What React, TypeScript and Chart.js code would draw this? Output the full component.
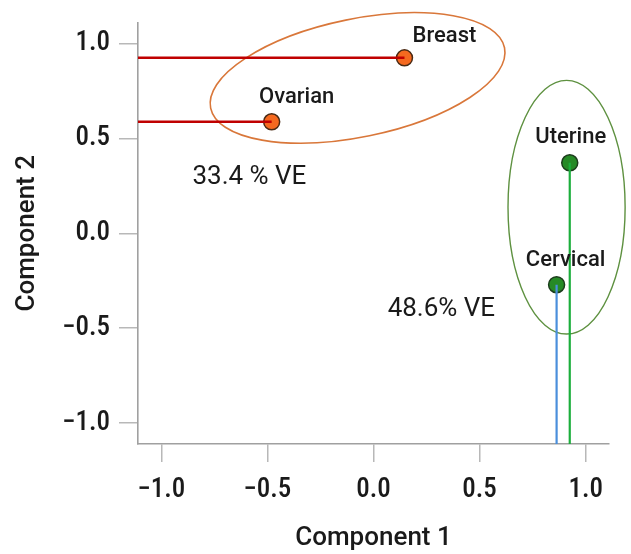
import React, { useEffect, useRef } from "react";
import { Chart, registerables } from "chart.js";
Chart.register(...registerables);

// ---- data ----
const categories = ["Breast", "Ovarian", "Uterine", "Cervical"];
const component1 = [0.146, -0.48, 0.925, 0.863];
const component2 = [0.924, 0.587, 0.371, -0.271];
const groups = ["A", "A", "B", "B"];
const tickValues = [-1, -0.5, 0, 0.5, 1];
const tickLabels = ["−1.0", "−0.5", "0.0", "0.5", "1.0"];
const veLabels = ["33.4 % VE", "48.6% VE"];
const veX = [-0.585, 0.32];
const veY = [0.295, -0.4];

const X_MIN = -1.11;
const X_MAX = 1.11;
const Y_MIN = -1.11;
const Y_MAX = 1.11;

const labelOffsets: Record<string, [number, number]> = {
  Breast: [40, -21],
  Ovarian: [25, -24],
  Uterine: [1, -25],
  Cervical: [9, -24],
};

const overlayPlugin = {
  id: "overlay",
  beforeDatasetsDraw(chart: any) {
    const { ctx, scales } = chart;
    const xs = scales.x;
    const ys = scales.y;
    ctx.save();
    ctx.beginPath();
    ctx.ellipse(
      xs.getPixelForValue(-0.075),
      ys.getPixelForValue(0.818),
      150,
      59,
      (-11.6 * Math.PI) / 180,
      0,
      Math.PI * 2
    );
    ctx.strokeStyle = "#d9773a";
    ctx.lineWidth = 1.6;
    ctx.stroke();
    const cx = xs.getPixelForValue(0.91);
    const cy = ys.getPixelForValue(0.137);
    const rx = Math.abs(xs.getPixelForValue(0.91 + 0.276) - cx);
    const ry = Math.abs(ys.getPixelForValue(0.137 + 0.668) - cy);
    ctx.beginPath();
    ctx.ellipse(cx, cy, rx, ry, 0, 0, Math.PI * 2);
    ctx.strokeStyle = "#5e9140";
    ctx.lineWidth = 1.4;
    ctx.stroke();
    ctx.restore();
  },
  afterDatasetsDraw(chart: any) {
    const { ctx, scales } = chart;
    const xs = scales.x;
    const ys = scales.y;
    ctx.save();
    ctx.fillStyle = "#1a1a1a";
    ctx.textAlign = "center";
    ctx.textBaseline = "middle";
    ctx.font = "500 22px Roboto, sans-serif";
    categories.forEach((c, i) => {
      const [dx, dy] = labelOffsets[c];
      ctx.fillText(c, xs.getPixelForValue(component1[i]) + dx, ys.getPixelForValue(component2[i]) + dy);
    });
    ctx.font = "400 26px Roboto, sans-serif";
    veLabels.forEach((t, i) => {
      ctx.fillText(t, xs.getPixelForValue(veX[i]), ys.getPixelForValue(veY[i]));
    });
    ctx.restore();
  },
};

export default function App() {
  const ref = useRef<HTMLCanvasElement | null>(null);
  useEffect(() => {
    if (!ref.current) return;
    const lineDatasets: any[] = [];
    categories.forEach((c, i) => {
      if (groups[i] === "A") {
        lineDatasets.push({
          type: "line",
          label: c + " line",
          data: [
            { x: X_MIN, y: component2[i] },
            { x: component1[i], y: component2[i] },
          ],
          borderColor: "#c00000",
          borderWidth: 2.5,
          pointRadius: 0,
          order: 0,
        });
      } else {
        lineDatasets.push({
          type: "line",
          label: c + " line",
          data: [
            { x: component1[i], y: component2[i] },
            { x: component1[i], y: Y_MIN },
          ],
          borderColor: c === "Uterine" ? "#1cae3c" : "#4a8fdc",
          borderWidth: 2.2,
          pointRadius: 0,
          order: 0,
        });
      }
    });
    const chart = new Chart(ref.current, {
      type: "scatter",
      data: {
        datasets: [
          ...lineDatasets,
          {
            type: "scatter",
            label: "Loadings",
            data: categories.map((c, i) => ({ x: component1[i], y: component2[i] })),
            backgroundColor: groups.map((g) => (g === "A" ? "#f5691f" : "#268a26")),
            borderColor: groups.map((g) => (g === "A" ? "#4a2a14" : "#1d3d1d")),
            borderWidth: 1.5,
            pointRadius: 8,
            order: 1,
          },
        ],
      } as any,
      options: {
        animation: false,
        responsive: false,
        maintainAspectRatio: false,
        layout: { padding: { left: 0, top: 22, right: 22, bottom: 0 } },
        plugins: {
          legend: { display: false },
          tooltip: { enabled: false },
        },
        scales: {
          x: {
            type: "linear",
            min: X_MIN,
            max: X_MAX,
            afterBuildTicks: (s: any) => {
              s.ticks = tickValues.map((v) => ({ value: v }));
            },
            afterFit: (s: any) => {
              s.height = 110;
            },
            ticks: {
              callback: (v: any) => tickLabels[tickValues.indexOf(Number(v))] ?? "",
              font: { family: "Roboto, sans-serif", size: 27, weight: "condensed 500" },
              color: "#1a1a1a",
              padding: 12,
              maxRotation: 0,
            },
            grid: {
              display: true,
              drawOnChartArea: false,
              drawTicks: true,
              tickLength: 18,
              color: "#b8b8b8",
              lineWidth: 1.5,
            },
            border: { display: true, color: "#a0a0a0", width: 1.6 },
            title: {
              display: true,
              text: "Component 1",
              font: { family: "Roboto, sans-serif", size: 26, weight: "500" },
              color: "#1a1a1a",
              padding: { top: 0, bottom: 0 },
            },
          },
          y: {
            type: "linear",
            min: Y_MIN,
            max: Y_MAX,
            afterBuildTicks: (s: any) => {
              s.ticks = tickValues.map((v) => ({ value: v }));
            },
            afterFit: (s: any) => {
              s.width = 138;
            },
            ticks: {
              callback: (v: any) => tickLabels[tickValues.indexOf(Number(v))] ?? "",
              font: { family: "Roboto, sans-serif", size: 27, weight: "condensed 500", lineHeight: 1 },
              color: "#1a1a1a",
              padding: 9,
            },
            grid: {
              display: true,
              drawOnChartArea: false,
              drawTicks: true,
              tickLength: 19,
              color: "#b8b8b8",
              lineWidth: 1.5,
            },
            border: { display: true, color: "#a0a0a0", width: 1.6 },
            title: {
              display: true,
              text: "Component 2",
              font: { family: "Roboto, sans-serif", size: 26, weight: "500" },
              color: "#1a1a1a",
              padding: { top: 12, bottom: 0 },
            },
          },
        },
      } as any,
      plugins: [overlayPlugin],
    });
    return () => chart.destroy();
  }, []);
  return (
    <div style={{ position: "fixed", left: 0, top: 0, width: 631, height: 554, background: "#fff" }}>
      <canvas ref={ref} width={631} height={554} style={{ width: 631, height: 554 }} />
    </div>
  );
}
